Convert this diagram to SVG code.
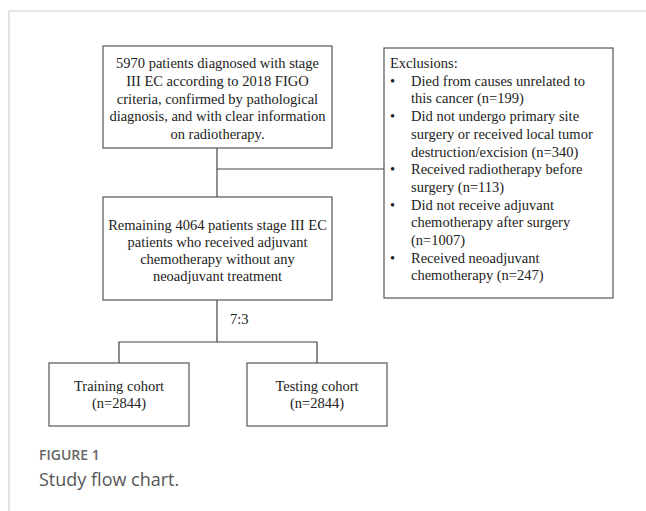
<svg xmlns="http://www.w3.org/2000/svg" width="646" height="511" viewBox="0 0 646 511">
<style>
.box{fill:#fff;stroke:#555;stroke-width:1.2}
.t{font-family:"Liberation Serif","Times New Roman",serif;font-size:14.5px;fill:#222}
.c{text-anchor:middle}
.ln{stroke:#444;stroke-width:1.2;fill:none}
.frame{stroke:#d0d0d0;stroke-width:1.2;fill:none}
.cap1{font-family:"Open Sans",sans-serif;font-size:14px;font-weight:600;fill:#666}
.cap2{font-family:"Open Sans",sans-serif;font-size:18px;fill:#555}
</style>
<rect width="646" height="511" fill="#fff"/>
<path class="frame" d="M9,511 V11 H646"/>
<g id="connectors">
<path class="ln" d="M217,148 V197"/>
<path class="ln" d="M217,169 H384"/>
<path class="ln" d="M217,300 V342"/>
<path class="ln" d="M119,363 V342 H317 V363"/>
<text class="t" x="230" y="324">7:3</text>
</g>
<g id="n1">
<rect class="box" x="103" y="46" width="229" height="102"/>
<text class="t c" x="217.5" y="68">5970 patients diagnosed with stage</text>
<text class="t c" x="217.5" y="86">III EC according to 2018 FIGO</text>
<text class="t c" x="217.5" y="104">criteria, confirmed by pathological</text>
<text class="t c" x="217.5" y="121">diagnosis, and with clear information</text>
<text class="t c" x="217.5" y="139">on radiotherapy.</text>
</g>
<g id="exclusions">
<rect class="box" x="384" y="48" width="229" height="250"/>
<text class="t" x="390" y="68">Exclusions:</text>
<g class="t">
<text x="390" y="85.7">•</text>
<text x="390" y="121.1">•</text>
<text x="390" y="174.2">•</text>
<text x="390" y="209.6">•</text>
<text x="390" y="262.7">•</text>
</g>
<text class="t" x="411" y="85.7">Died from causes unrelated to</text>
<text class="t" x="411" y="103.4">this cancer (n=199)</text>
<text class="t" x="411" y="121.1">Did not undergo primary site</text>
<text class="t" x="411" y="138.8">surgery or received local tumor</text>
<text class="t" x="411" y="156.5">destruction/excision (n=340)</text>
<text class="t" x="411" y="174.2">Received radiotherapy before</text>
<text class="t" x="411" y="191.9">surgery (n=113)</text>
<text class="t" x="411" y="209.6">Did not receive adjuvant</text>
<text class="t" x="411" y="227.3">chemotherapy after surgery</text>
<text class="t" x="411" y="245">(n=1007)</text>
<text class="t" x="411" y="262.7">Received neoadjuvant</text>
<text class="t" x="411" y="280.4">chemotherapy (n=247)</text>
</g>
<g id="n2">
<rect class="box" x="103" y="197" width="229" height="103"/>
<text class="t c" x="217.5" y="230">Remaining 4064 patients stage III EC</text>
<text class="t c" x="217.5" y="247">patients who received adjuvant</text>
<text class="t c" x="217.5" y="264">chemotherapy without any</text>
<text class="t c" x="217.5" y="281">neoadjuvant treatment</text>
</g>
<g id="train">
<rect class="box" x="49" y="363" width="140" height="63"/>
<text class="t c" x="119" y="391">Training cohort</text>
<text class="t c" x="119" y="408">(n=2844)</text>
</g>
<g id="test">
<rect class="box" x="247" y="363" width="140" height="63"/>
<text class="t c" x="317" y="391">Testing cohort</text>
<text class="t c" x="317" y="408">(n=2844)</text>
</g>
<text class="cap1" x="39" y="460">FIGURE 1</text>
<text class="cap2" x="39" y="486">Study flow chart.</text>
</svg>
